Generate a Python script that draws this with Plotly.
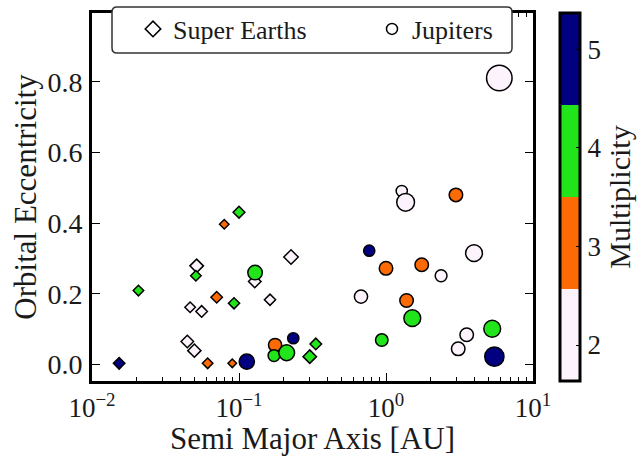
import plotly.graph_objects as go

# ---------------- data ----------------
# Super Earths (diamonds): semi major axis [AU], eccentricity, multiplicity, marker diameter (px)
se_a = [0.0153, 0.0207, 0.0794, 0.100, 0.0515, 0.0509, 0.0705, 0.0925, 0.0465, 0.0557,
        0.0445, 0.0497, 0.0612, 0.090, 0.226, 0.128, 0.1626, 0.333, 0.303]
se_e = [0.003, 0.209, 0.397, 0.431, 0.279, 0.251, 0.190, 0.173, 0.162, 0.150,
        0.065, 0.039, 0.003, 0.003, 0.304, 0.235, 0.183, 0.058, 0.022]
se_mult = [5, 4, 3, 4, 2, 4, 3, 4, 2, 2,
           2, 2, 3, 3, 2, 2, 2, 4, 4]
se_diam = [13, 12, 11, 13.3, 15, 12, 13, 12.7, 12, 13,
           14, 14.7, 12, 10, 16, 14, 12.7, 13, 15]

# Jupiters (circles)
ju_a = [0.1286, 0.769, 0.676, 0.234, 0.176, 0.173, 0.211, 0.113, 1.28, 1.36,
        2.99, 3.97, 1.00, 1.75, 2.37, 1.38, 1.51, 0.936, 3.54, 3.10,
        5.28, 5.46, 5.90]
ju_e = [0.260, 0.322, 0.192, 0.074, 0.055, 0.025, 0.033, 0.008, 0.491, 0.459,
        0.480, 0.315, 0.272, 0.282, 0.251, 0.181, 0.131, 0.069, 0.084, 0.044,
        0.101, 0.022, 0.811]
ju_mult = [4, 5, 2, 5, 3, 4, 4, 5, 2, 2,
           3, 2, 3, 3, 2, 3, 4, 4, 2, 2,
           4, 5, 2]
ju_diam = [16, 12.7, 14.7, 12.7, 14.7, 13.3, 17.3, 16.7, 12.7, 19.3,
           15, 18.3, 15, 15, 13.3, 15, 18.3, 14, 15, 15,
           18.3, 20.7, 27]

x_ticks = [0.01, 0.1, 1, 10]
x_ticktext = ["10<sup>−2</sup>", "10<sup>−1</sup>", "10<sup>0</sup>", "10<sup>1</sup>"]
x_minor = [m * 10.0 ** k for k in (-2, -1, 0) for m in range(2, 10)]
y_ticks = [0.0, 0.2, 0.4, 0.6, 0.8]
cbar_ticks = [2, 3, 4, 5]
legend_names = ["Super Earths", "Jupiters"]

# ---------------- styling ----------------
FONT = "Liberation Serif"
TXT = "#1a1a1a"
C2, C3, C4, C5 = "#fdf3fd", "#fb6a04", "#22e41a", "#000080"
CMIN, CMAX = 1.635, 5.37
cscale = [[0.0, C2], [0.25, C2], [0.25, C3], [0.5, C3],
          [0.5, C4], [0.75, C4], [0.75, C5], [1.0, C5]]
LW = 1.5

# plot area in pixels
L, R, T, B = 92, 533, 13, 381
PW, PH = R - L, B - T


def px2paper(px, py):
    return (px - L) / PW, (B - py) / PH


fig = go.Figure()

fig.add_trace(go.Scatter(
    x=se_a, y=se_e, mode="markers", showlegend=False,
    marker=dict(symbol="diamond", size=[(d - LW) / 1.3 for d in se_diam],
                color=se_mult, colorscale=cscale, cmin=CMIN, cmax=CMAX, opacity=1,
                line=dict(color="black", width=LW)),
))
fig.add_trace(go.Scatter(
    x=ju_a, y=ju_e, mode="markers", showlegend=False,
    marker=dict(symbol="circle", size=[d - LW for d in ju_diam],
                color=ju_mult, colorscale=cscale, cmin=CMIN, cmax=CMAX, opacity=1,
                line=dict(color="black", width=LW),
                showscale=True,
                colorbar=dict(
                    x=px2paper(560, 0)[0], xanchor="left", xpad=0,
                    y=0.5, yanchor="middle", len=1, lenmode="fraction", ypad=0,
                    thickness=20, outlinewidth=3, outlinecolor="black",
                    tickvals=cbar_ticks, ticktext=[str(t) for t in cbar_ticks],
                    ticks="inside", ticklen=5, tickcolor="black",
                    tickfont=dict(family=FONT, size=27, color=TXT),
                    title=dict(text="Multiplicity", side="right",
                               font=dict(family=FONT, size=30, color=TXT)),
                )),
))

# legend-only entries (two legends placed like the reference's two columns)
fig.add_trace(go.Scatter(x=[None], y=[None], mode="markers", name=legend_names[0],
                         legend="legend",
                         marker=dict(symbol="diamond", size=12, color="white",
                                     line=dict(color="black", width=1.5))))
fig.add_trace(go.Scatter(x=[None], y=[None], mode="markers", name=legend_names[1],
                         legend="legend2",
                         marker=dict(symbol="circle", size=11, color="white",
                                     line=dict(color="black", width=1.5))))

# rounded legend frame
x0, x1, y0, y1, r = 112, 512, 7, 53, 5
ax0, ay0 = px2paper(x0, y0)
ax1, ay1 = px2paper(x1, y1)
rx, ry = r / PW, r / PH
path = (f"M {ax0+rx},{ay0} L {ax1-rx},{ay0} Q {ax1},{ay0} {ax1},{ay0-ry} "
        f"L {ax1},{ay1+ry} Q {ax1},{ay1} {ax1-rx},{ay1} L {ax0+rx},{ay1} "
        f"Q {ax0},{ay1} {ax0},{ay1+ry} L {ax0},{ay0-ry} Q {ax0},{ay0} {ax0+rx},{ay0} Z")
fig.add_shape(type="path", path=path, xref="paper", yref="paper", layer="above",
              fillcolor="white", line=dict(color="#333333", width=1.5))

leg_common = dict(orientation="h", xanchor="left", yanchor="middle",
                  bgcolor="rgba(0,0,0,0)", borderwidth=0,
                  font=dict(family=FONT, size=26, color=TXT))
fig.update_layout(
    width=637, height=456,
    margin=dict(l=L, r=637 - R, t=T, b=456 - B, autoexpand=False),
    paper_bgcolor="white", plot_bgcolor="white",
    font=dict(family=FONT, color=TXT),
    legend=dict(x=px2paper(133, 0)[0], y=px2paper(0, 29)[1], **leg_common),
    legend2=dict(x=px2paper(372, 0)[0], y=px2paper(0, 29)[1], **leg_common),
)

fig.update_xaxes(
    type="log", range=[-2, 1], tickvals=x_ticks, ticktext=x_ticktext,
    showgrid=False, zeroline=False,
    showline=True, linecolor="black", linewidth=3, mirror="allticks",
    ticks="inside", ticklen=8, tickwidth=1, tickcolor="black",
    minor=dict(tickvals=x_minor, ticks="inside", ticklen=4, tickwidth=1,
               tickcolor="black", showgrid=False),
    ticklabelstandoff=1,
    tickfont=dict(family=FONT, size=27, color=TXT),
    title=dict(text="Semi Major Axis [AU]", font=dict(family=FONT, size=31, color=TXT),
               standoff=4),
)
fig.update_yaxes(
    range=[-0.047, 0.995], tickvals=y_ticks, tickformat=".1f",
    showgrid=False, zeroline=False,
    showline=True, linecolor="black", linewidth=3, mirror="allticks",
    ticks="inside", ticklen=8, tickwidth=1, tickcolor="black",
    ticklabelstandoff=1,
    tickfont=dict(family=FONT, size=28, color=TXT),
    title=dict(text="Orbital Eccentricity", font=dict(family=FONT, size=31, color=TXT),
               standoff=2),
)

fig.write_html("out.html")
